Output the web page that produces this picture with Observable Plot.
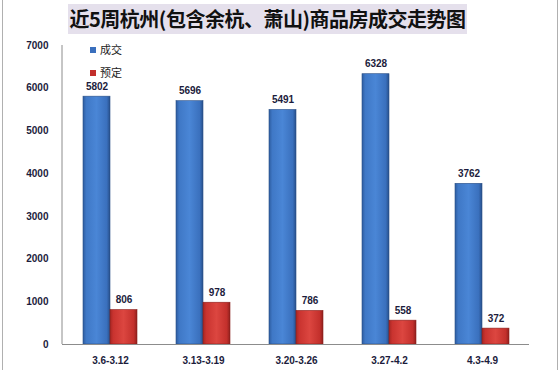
<!DOCTYPE html>
<html><head><meta charset="utf-8">
<script src="https://cdn.jsdelivr.net/npm/d3@7"></script>
<script src="https://cdn.jsdelivr.net/npm/@observablehq/plot@0.6"></script>
<style>
body{margin:0;background:#fff;}
#wrap{position:relative;width:560px;height:370px;overflow:hidden;}
#title{position:absolute;left:68px;top:4px;width:399px;height:30px;background:#e5e0ec;
 font-family:"Noto Sans CJK SC";font-weight:bold;font-size:20px;line-height:30px;text-align:center;color:#111;letter-spacing:-0.5px;}
.leg{position:absolute;left:90px;font-family:"Noto Sans CJK SC";font-size:11px;color:#222;line-height:12px;}
.leg i{display:inline-block;width:6px;height:6px;margin-right:4px;vertical-align:1px;}
#bl{position:absolute;left:2px;top:0;width:1px;height:370px;background:#b0b0b0;}
#br{position:absolute;left:557px;top:0;width:1px;height:370px;background:#b0b0b0;}
svg text{font-family:"Liberation Sans",Arial,sans-serif;}
</style></head>
<body><div id="wrap"><div id="chart"></div><div id="bl"></div><div id="br"></div>
<div id="title">近5周杭州(包含余杭、萧山)商品房成交走势图</div>
<div class="leg" style="top:43px"><i style="background:#3a6fbd"></i>成交</div>
<div class="leg" style="top:66px"><i style="background:#c22f2c"></i>预定</div>
</div>
<script>
const categories = ["3.6-3.12","3.13-3.19","3.20-3.26","3.27-4.2","4.3-4.9"];
const deal = [5802,5696,5491,6328,3762];
const reserve = [806,978,786,558,372];
const yTicks = [0,1000,2000,3000,4000,5000,6000,7000];

const dealRows = categories.map((c,i)=>({cat:c, v:deal[i]}));
const resRows = categories.map((c,i)=>({cat:c, v:reserve[i]}));

const plot = Plot.plot({
  width:560, height:370,
  marginLeft:62, marginRight:31, marginTop:45, marginBottom:26,
  style:{fontSize:"10px", fontWeight:"bold", color:"#1c1c3c", background:"transparent", overflow:"visible"},
  x:{domain:categories, paddingInner:0.424, paddingOuter:0.212, label:null, tickSize:0, tickPadding:12},
  y:{domain:[0,7000], ticks:yTicks, tickFormat:d=>String(d), label:null, tickSize:0, tickPadding:14},
  marks:[
    Plot.barY(dealRows,{x:"cat", y:"v", insetRight:27, fill:"url(#gBlue)", stroke:"#2a4f86", strokeWidth:0.6}),
    Plot.barY(resRows,{x:"cat", y:"v", insetLeft:27, fill:"url(#gRed)", stroke:"#8a1f1c", strokeWidth:0.6}),
    Plot.text(dealRows,{x:"cat", y:"v", text:d=>String(d.v), dx:-13.5, dy:-10, fill:"#1c1c3c", fontWeight:"bold", fontSize:10}),
    Plot.text(resRows,{x:"cat", y:"v", text:d=>String(d.v), dx:13.5, dy:-10, fill:"#1c1c3c", fontWeight:"bold", fontSize:10}),
    Plot.ruleY([0],{stroke:"#8c8c8c", strokeWidth:1})
  ]
});
const svg = d3.select(plot);
const defs = svg.insert("defs",":first-child");
function grad(id, stops){
  const g = defs.append("linearGradient").attr("id",id).attr("x1","0").attr("x2","1").attr("y1","0").attr("y2","0");
  stops.forEach(([o,c])=>g.append("stop").attr("offset",o).attr("stop-color",c));
}
grad("gBlue",[[0,"#2d5c9f"],[0.12,"#3f78c6"],[0.5,"#4a86d6"],[0.88,"#3a70bd"],[1,"#274f8a"]]);
grad("gRed",[[0,"#a52623"],[0.12,"#c9332f"],[0.5,"#dc4640"],[0.88,"#c3302c"],[1,"#8f201d"]]);
const y = plot.scale("y");
svg.append("line").attr("x1",62).attr("x2",62).attr("y1",y.apply(7000)).attr("y2",y.apply(0))
  .attr("stroke","#8c8c8c").attr("stroke-width",1);
document.getElementById("chart").appendChild(plot);
</script></body></html>
